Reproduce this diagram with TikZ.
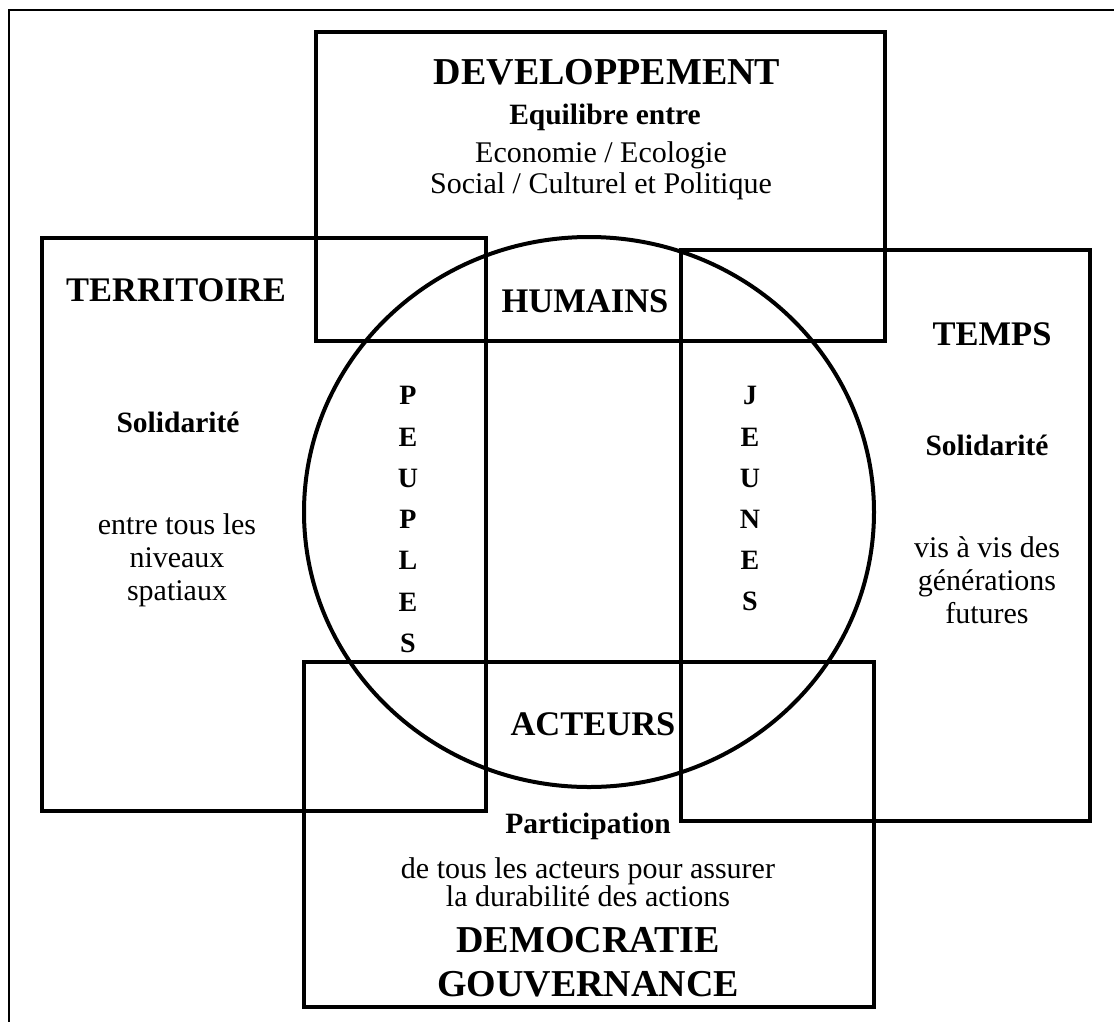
\documentclass[tikz,border=0pt]{standalone}
\usepackage{fontspec}
\setmainfont{Liberation Serif}
\tikzset{
  frameline/.style={line width=2.5pt, black},
  boxline/.style={line width=3.2pt, black},
  ringline/.style={line width=4pt, black},
  big/.style={font=\bfseries\fontsize{38}{44}\selectfont, anchor=base, inner sep=0pt},
  title/.style={font=\bfseries\fontsize{34.5}{40}\selectfont, anchor=base, inner sep=0pt},
  sub/.style={font=\bfseries\fontsize{29.5}{34}\selectfont, anchor=base, inner sep=0pt},
  body/.style={font=\fontsize{30}{34}\selectfont, anchor=base, inner sep=0pt},
  vlet/.style={font=\bfseries\fontsize{28}{32}\selectfont, anchor=base, inner sep=0pt}
}
\begin{document}
\begin{tikzpicture}[x=1pt,y=-1pt]
\useasboundingbox (0,0) rectangle (1114,1021);
% outer frame
\draw[frameline] (9,1030) -- (9,10) -- (1120,10);
% boxes
\draw[boxline] (316,32) rectangle (885,341);
\draw[boxline] (42,238) rectangle (486,811);
\draw[boxline] (681,250) rectangle (1090,821);
\draw[boxline] (304,662) rectangle (874,1007);
% circle
\draw[ringline] (589,512) ellipse[x radius=285, y radius=275];
% Developpement
\node[big] (dev) at (607,84) {DEVELOPPEMENT};
\node[sub] (equi) at (605,124) {Equilibre entre};
\node[body] (eco) at (601,162) {Economie / Ecologie};
\node[body] (soc) at (601,193) {Social / Culturel et Politique};
% Territoire
\node[title] (terr) at (176,301) {TERRITOIRE};
\node[sub] (sol1) at (178,432) {Solidarité};
\node[body] (ent1) at (177,534) {entre tous les};
\node[body] (ent2) at (177,567) {niveaux};
\node[body] (ent3) at (177,600) {spatiaux};
% Temps
\node[title] (temps) at (992,345) {TEMPS};
\node[sub] (sol2) at (987,455) {Solidarité};
\node[body] (vis1) at (987,557) {vis à vis des};
\node[body] (vis2) at (987,590) {générations};
\node[body] (vis3) at (987,623) {futures};
% circle labels
\node[title] (hum) at (585,312) {HUMAINS};
\node[title] (act) at (593,735) {ACTEURS};
% PEUPLES
\node[vlet] (p1) at (408,404) {P};
\node[vlet] (p2) at (408,446) {E};
\node[vlet] (p3) at (408,487) {U};
\node[vlet] (p4) at (408,528) {P};
\node[vlet] (p5) at (408,569) {L};
\node[vlet] (p6) at (408,611) {E};
\node[vlet] (p7) at (408,652) {S};
% JEUNES
\node[vlet] (j1) at (750,404) {J};
\node[vlet] (j2) at (750,446) {E};
\node[vlet] (j3) at (750,487) {U};
\node[vlet] (j4) at (750,528) {N};
\node[vlet] (j5) at (750,569) {E};
\node[vlet] (j6) at (750,610) {S};
% Democratie
\node[sub] (part) at (588,833) {Participation};
\node[body] (de1) at (588,878) {de tous les acteurs pour assurer};
\node[body] (de2) at (588,906) {la durabilité des actions};
\node[big] (demo) at (588,952) {DEMOCRATIE};
\node[big] (gouv) at (588,996) {GOUVERNANCE};
\end{tikzpicture}
\end{document}
